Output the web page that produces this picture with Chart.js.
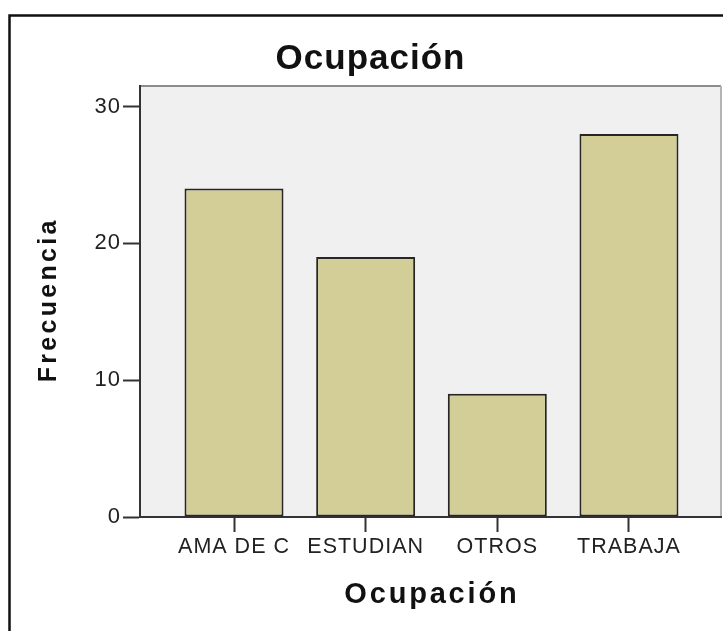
<!DOCTYPE html>
<html>
<head>
<meta charset="utf-8">
<script src="https://cdn.jsdelivr.net/npm/chart.js@4.4.0/dist/chart.umd.min.js"></script>
<style>
  html, body { margin: 0; padding: 0; background: #fff; }
  canvas { display: block; }
</style>
</head>
<body>
<canvas id="chart" width="723" height="631"></canvas>
<script>
const categories = ['AMA DE C', 'ESTUDIAN', 'OTROS', 'TRABAJA'];
const frequencies = [24, 19, 9, 28];
const yTicks = [0, 10, 20, 30];
const chartTitle = 'Ocupación';
const xTitle = 'Ocupación';
const yTitle = 'Frecuencia';

const FONT = "'Liberation Sans', Arial, sans-serif";

// spaced text, centred on (x, y)
function spacedText(ctx, text, x, y, spacing) {
  ctx.letterSpacing = spacing + 'px';
  ctx.textAlign = 'center';
  ctx.textBaseline = 'middle';
  ctx.fillText(text, x + spacing / 2, y);
}

const framePlugin = {
  id: 'frame',
  beforeDraw(chart) {
    const { ctx, chartArea: a, width, height } = chart;
    ctx.save();
    ctx.fillStyle = '#fff';
    ctx.fillRect(0, 0, width, height);

    // outer frame, only top and left edges are in view
    ctx.strokeStyle = '#111';
    ctx.lineWidth = 2.5;
    ctx.beginPath();
    ctx.moveTo(9.5, height);
    ctx.lineTo(9.5, 15.5);
    ctx.lineTo(width, 15.5);
    ctx.stroke();

    // plot background
    ctx.fillStyle = '#f0f0f0';
    ctx.fillRect(a.left, a.top, a.right - a.left, a.bottom - a.top);
    ctx.lineWidth = 2;
    ctx.strokeStyle = '#8c8c8c';
    ctx.beginPath();
    ctx.moveTo(a.left, a.top);
    ctx.lineTo(a.right, a.top);
    ctx.stroke();
    ctx.strokeStyle = '#b4b4b4';
    ctx.beginPath();
    ctx.moveTo(a.right, a.top);
    ctx.lineTo(a.right, a.bottom);
    ctx.stroke();
    ctx.restore();

    // tick labels and title are slightly spread out in the original
    ctx.letterSpacing = '1px';
  },
  afterDraw(chart) {
    const { ctx, chartArea: a } = chart;
    ctx.save();
    ctx.fillStyle = '#111';

    ctx.font = 'bold 29px ' + FONT;
    spacedText(ctx, xTitle, (a.left + a.right) / 2, 595, 2.8);

    ctx.translate(49, (a.top + a.bottom) / 2);
    ctx.rotate(-Math.PI / 2);
    ctx.font = 'bold 25px ' + FONT;
    spacedText(ctx, yTitle, 0, 0, 3.3);
    ctx.restore();
  }
};

const ctx = document.getElementById('chart').getContext('2d');

new Chart(ctx, {
  type: 'bar',
  data: {
    datasets: [{
      label: 'Frecuencia',
      data: frequencies.map((v, i) => ({ x: i, y: v })),
      backgroundColor: '#d3ce97',
      borderColor: '#262626',
      borderWidth: 2,
      borderSkipped: false,
      barPercentage: 0.752,
      categoryPercentage: 1
    }]
  },
  options: {
    responsive: false,
    animation: false,
    layout: { padding: { left: 20, right: 2, top: 0, bottom: 0 } },
    plugins: {
      legend: { display: false },
      tooltip: { enabled: false },
      title: {
        display: true,
        text: chartTitle,
        color: '#111',
        font: { family: FONT, size: 35, weight: 'bold', lineHeight: 1.2 },
        padding: { top: 38, bottom: 6 }
      }
    },
    scales: {
      x: {
        type: 'linear',
        offset: false,
        min: -0.714,
        max: 3.699,
        afterBuildTicks: s => { s.ticks = categories.map((c, i) => ({ value: i })); },
        afterFit: s => { s.height = 114; },
        ticks: {
          callback: v => categories[v],
          color: '#222',
          font: { family: FONT, size: 21.5 },
          padding: 2,
          maxRotation: 0,
          autoSkip: false
        },
        grid: {
          offset: false,
          drawOnChartArea: false,
          tickLength: 15,
          tickWidth: 2,
          tickColor: '#333'
        },
        border: { color: '#333', width: 2 }
      },
      y: {
        min: 0,
        max: 31.5,
        afterBuildTicks: s => { s.ticks = yTicks.map(v => ({ value: v })); },
        afterFit: s => { s.width = 120; },
        ticks: {
          color: '#222',
          font: { family: FONT, size: 22 },
          padding: 2
        },
        grid: {
          drawOnChartArea: false,
          tickLength: 17,
          tickWidth: 2,
          tickColor: '#333'
        },
        border: { color: '#333', width: 2 }
      }
    }
  },
  plugins: [framePlugin]
});
</script>
</body>
</html>
